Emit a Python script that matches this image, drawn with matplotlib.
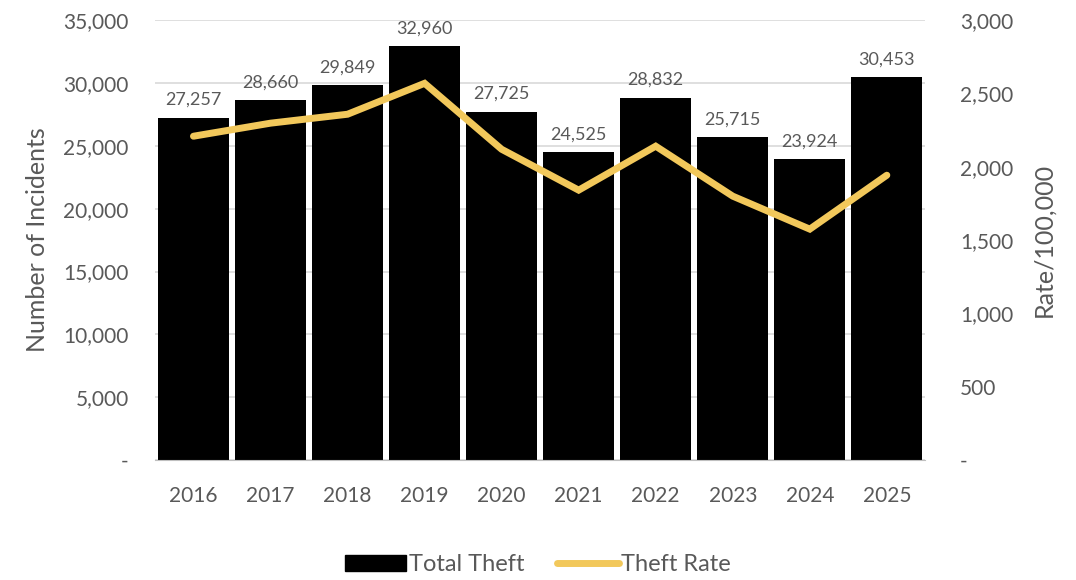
import matplotlib
matplotlib.use("Agg")
import matplotlib.pyplot as plt
from matplotlib.ticker import FuncFormatter
from matplotlib.patches import Patch
from matplotlib.lines import Line2D

years = ["2016", "2017", "2018", "2019", "2020", "2021", "2022", "2023", "2024", "2025"]
total_theft = [27257, 28660, 29849, 32960, 27725, 24525, 28832, 25715, 23924, 30453]
theft_rate = [2209, 2298, 2359, 2570, 2120, 1841, 2141, 1800, 1575, 1943]

plt.rcParams['font.family'] = ['Lato', 'DejaVu Sans']
gray = '#595959'
gold = '#F2C85B'

fig = plt.figure(figsize=(10.76, 5.8), dpi=100)
ax = fig.add_axes([0.144, 0.207, 0.716, 0.758])
x = list(range(len(years)))
ax.bar(x, total_theft, width=0.92, color='black', zorder=2)
ax.set_xlim(-0.5, len(years) - 0.5)
ax.set_ylim(0, 35000)
ax.set_yticks(range(0, 35001, 5000))
ax.yaxis.set_major_formatter(FuncFormatter(lambda v, p: '-' if v == 0 else f'{int(v):,}'))
ax.set_xticks(x)
ax.set_xticklabels(years)
ax.grid(axis='y', color='#d9d9d9', linewidth=1.2, zorder=0)
ax.set_axisbelow(True)
for s in ['top', 'right', 'left']:
    ax.spines[s].set_visible(False)
ax.spines['bottom'].set_color('#bfbfbf')
ax.tick_params(axis='y', length=0, labelsize=15, labelcolor=gray, pad=19)
ax.tick_params(axis='x', length=0, labelsize=15, labelcolor=gray, pad=19)
ax.set_ylabel('Number of Incidents', fontsize=18, color=gray, labelpad=10)

for xi, v in zip(x, total_theft):
    ax.annotate(f'{v:,}', (xi, v), xytext=(0, 7), textcoords='offset points',
                ha='center', va='bottom', fontsize=13, color=gray)

ax2 = ax.twinx()
ax2.plot(x, theft_rate, color=gold, linewidth=5, solid_capstyle='round', solid_joinstyle='miter', zorder=3)
ax2.set_ylim(0, 3000)
ax2.set_yticks(range(0, 3001, 500))
ax2.yaxis.set_major_formatter(FuncFormatter(lambda v, p: '-' if v == 0 else f'{int(v):,}'))
for s in ['top', 'right', 'left', 'bottom']:
    ax2.spines[s].set_visible(False)
ax2.tick_params(axis='y', length=0, labelsize=15, labelcolor=gray, pad=25)
ax2.set_ylabel('Rate/100,000', fontsize=18, color=gray, labelpad=14)

handles = [Patch(facecolor='black', edgecolor='black'),
           Line2D([0], [0], color=gold, linewidth=5, solid_capstyle='round')]
fig.legend(handles, ['Total Theft', 'Theft Rate'], loc='center',
           bbox_to_anchor=(0.5, 0.026), ncol=2, frameon=False, fontsize=17,
           labelcolor=gray, handlelength=2.6, handletextpad=0.1, columnspacing=1.4)

fig.savefig('out.png', dpi=100)
